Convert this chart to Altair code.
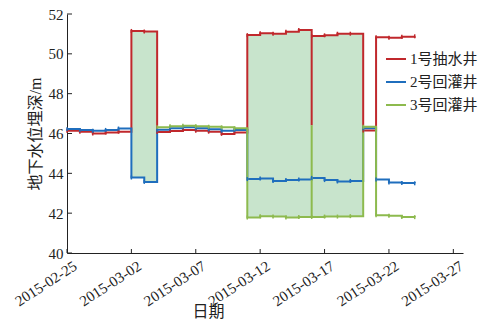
import altair as alt
import pandas as pd

# ---------------- data ----------------
dates = ["2015-02-25", "2015-02-26", "2015-02-27", "2015-02-28", "2015-03-01",
         "2015-03-02", "2015-03-03", "2015-03-04", "2015-03-05", "2015-03-06",
         "2015-03-07", "2015-03-08", "2015-03-09", "2015-03-10", "2015-03-11",
         "2015-03-12", "2015-03-13", "2015-03-14", "2015-03-15", "2015-03-16",
         "2015-03-17", "2015-03-18", "2015-03-19", "2015-03-20", "2015-03-21",
         "2015-03-22", "2015-03-23", "2015-03-24"]

red = [46.14, 46.09, 46.00, 46.05, 46.09, 51.15, 51.12, 46.07, 46.12, 46.17,
       46.14, 46.09, 45.98, 46.05, 50.94, 51.03, 51.01, 51.11, 51.20, 50.89,
       50.93, 51.01, 51.01, 46.15, 50.83, 50.81, 50.86, 50.88]

blue = [46.22, 46.18, 46.14, 46.18, 46.25, 43.79, 43.57, 46.19, 46.26, 46.31,
        46.26, 46.21, 46.14, 46.17, 43.71, 43.74, 43.62, 43.66, 43.69, 43.77,
        43.66, 43.59, 43.62, 46.26, 43.69, 43.54, 43.52, 43.50]

green = [None, None, None, None, None, None, None, 46.32, 46.37, 46.39,
         46.36, 46.34, 46.31, 46.26, 41.78, 41.85, 41.83, 41.78, 41.81, 41.81,
         41.83, 41.83, 41.85, 46.34, 41.90, 41.87, 41.81, 41.80]

series_names = ["1号抽水井", "2号回灌井", "3号回灌井"]
series_colors = ["#c0282c", "#1f6ebd", "#8dba4e"]

# momentary readings at the restart of pumping on 03-16
break_date = "2015-03-16"
break_values = {"1号抽水井": 46.42, "3号回灌井": 46.42}

# pumping periods that are shaded between the pumping well and the recharge well
fill_periods = [("2015-03-02", "2015-03-04"),
                ("2015-03-11", "2015-03-16"),
                ("2015-03-16", "2015-03-20")]

x_ticks = ["2015-02-25", "2015-03-02", "2015-03-07", "2015-03-12",
           "2015-03-17", "2015-03-22", "2015-03-27"]
y_ticks = [40, 42, 44, 46, 48, 50, 52]

# ---------------- tables ----------------
rows = []
for name, vals in zip(series_names, [red, blue, green]):
    for i, (d, v) in enumerate(zip(dates, vals)):
        if v is None:
            continue
        if d == break_date and name in break_values:
            rows.append({"series": name, "date": d + "T00:00:00",
                         "value": break_values[name], "ord": i - 0.5, "kind": "brk"})
        rows.append({"series": name, "date": d + "T00:00:00",
                     "value": v, "ord": i, "kind": "pt"})
line_df = pd.DataFrame(rows)

fill_rows = []
for pid, (start, end) in enumerate(fill_periods):
    i0, i1 = dates.index(start), dates.index(end)
    for i in range(i0, i1 + 1):
        k = min(i, i1 - 1)
        bottom = green[k] if green[k] is not None else blue[k]
        fill_rows.append({"period": pid, "date": dates[i] + "T00:00:00",
                          "top": red[k], "bot": bottom})
fill_df = pd.DataFrame(fill_rows)

xt_df = pd.DataFrame({"date": [d + "T00:00:00" for d in x_ticks]})
yt_df = pd.DataFrame({"value": y_ticks})

# ---------------- styling ----------------
FONT = "Liberation Serif, Noto Sans CJK SC"
TXT = "#222222"
W, H = 396, 239


def dt(s, hours=0):
    y, m, d = [int(p) for p in s.split("-")]
    return alt.DateTime(year=y, month=m, date=d, hours=hours)


xscale = alt.Scale(domain=[dt(dates[0]), dt("2015-03-27", 18)], nice=False)
yscale = alt.Scale(domain=[40, 52], nice=False, zero=False)

xaxis = alt.Axis(values=[dt(s) for s in x_ticks], format="%Y-%m-%d",
                 labelAngle=327, labelAlign="right", labelBaseline="top",
                 labelFontSize=15, labelFont=FONT, labelColor=TXT,
                 labelPadding=5, labelOffset=4, labelFlush=False, labelOverlap=False,
                 tickSize=0, domainColor=TXT, domainWidth=1, grid=False,
                 title="日期", titleFont=FONT, titleFontSize=16,
                 titleFontWeight="normal", titleColor=TXT,
                 titleX=141, titleY=58, titleAlign="center", titleBaseline="middle")

yaxis = alt.Axis(values=y_ticks, tickSize=0, labelPadding=4,
                 labelFontSize=15, labelFont=FONT, labelColor=TXT,
                 domainColor=TXT, domainWidth=1, grid=False,
                 title="地下水位埋深/m", titleFont=FONT, titleFontSize=16,
                 titleFontWeight="normal", titleColor=TXT, titleAngle=270,
                 titleX=-32, titleY=H / 2, titleAlign="center", titleBaseline="middle")

legend = alt.Legend(orient="none", legendX=318, legendY=34, title=None,
                    symbolType="stroke", symbolSize=400, symbolStrokeWidth=2,
                    labelFontSize=15, labelFont=FONT, labelColor=TXT,
                    labelOffset=3, rowPadding=4, padding=0)

color = alt.Color("series:N", scale=alt.Scale(domain=series_names, range=series_colors),
                  legend=legend)

X = alt.X("date:T", scale=xscale, axis=xaxis)

area = alt.Chart(fill_df).mark_area(interpolate="step-after", color="#c8e4cc").encode(
    x=X,
    y=alt.Y("top:Q", scale=yscale, axis=yaxis),
    y2="bot:Q",
    detail="period:N",
)

lines = alt.Chart(line_df).mark_line(interpolate="step-after", strokeWidth=2).encode(
    x=X,
    y=alt.Y("value:Q", scale=yscale, axis=yaxis),
    color=color,
    order="ord:Q",
)

errs = alt.Chart(line_df).transform_filter(
    "datum.kind == 'pt'"
).transform_calculate(
    lo="datum.value - 0.1", hi="datum.value + 0.1"
).mark_rule(strokeWidth=1.5).encode(
    x=X,
    y=alt.Y("lo:Q", scale=yscale, axis=yaxis),
    y2="hi:Q",
    color=color,
)

xticks = alt.Chart(xt_df).mark_rule(color=TXT, strokeWidth=1).encode(
    x=X, y=alt.value(H), y2=alt.value(H - 4)
)
yticks = alt.Chart(yt_df).mark_rule(color=TXT, strokeWidth=1).encode(
    y=alt.Y("value:Q", scale=yscale, axis=yaxis), x=alt.value(0), x2=alt.value(5)
)

chart = alt.layer(area, lines, errs, xticks, yticks).properties(
    width=W, height=H,
    autosize=alt.AutoSizeParams(type="none"),
    padding={"left": 59, "top": 6, "right": 18, "bottom": 67},
    background="white",
).configure_view(stroke=None)

chart.save("out.html", embed_options={"renderer": "svg", "actions": False})
